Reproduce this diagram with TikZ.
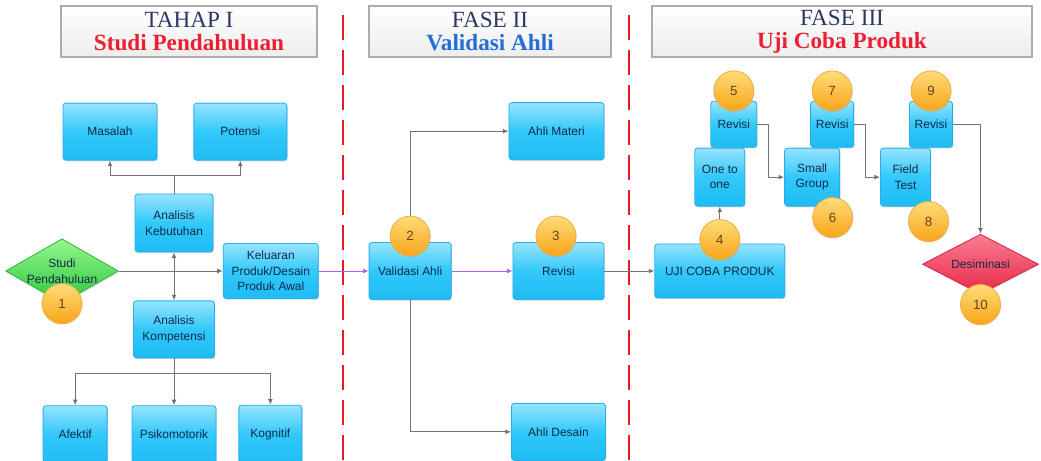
\documentclass[tikz,border=0pt]{standalone}
\usepackage{fontspec}
\setmainfont{Liberation Serif}
\setsansfont{Liberation Sans}
\usetikzlibrary{positioning,shapes.geometric,shadows,arrows.meta}

\definecolor{boxtop}{RGB}{150,228,255}
\definecolor{boxmid}{RGB}{50,200,250}
\definecolor{boxbot}{RGB}{30,188,244}
\definecolor{boxline}{RGB}{40,175,235}
\definecolor{boxtext}{RGB}{20,40,75}
\definecolor{hdtext}{RGB}{45,55,100}
\definecolor{hdred}{RGB}{235,30,50}
\definecolor{hdblue}{RGB}{35,110,210}
\definecolor{sekatred}{RGB}{235,25,35}
\definecolor{garis}{RGB}{115,115,115}
\definecolor{ungu}{RGB}{170,100,230}
\definecolor{badgetop}{RGB}{255,220,120}
\definecolor{badgebot}{RGB}{248,165,25}
\definecolor{badgeline}{RGB}{240,175,70}

\begin{document}
\begin{tikzpicture}[
    box/.style={rectangle, rounded corners=2pt, draw=boxline, line width=0.6pt,
        top color=boxtop, bottom color=boxbot, middle color=boxmid,
        text=boxtext, align=center, inner sep=1pt,
        font=\sffamily\fontsize{8.5}{11}\selectfont,
        drop shadow={shadow xshift=0.6pt, shadow yshift=-0.8pt, opacity=0.3}},
    diam/.style={diamond, aspect=1.75, inner sep=0pt, align=center, text=boxtext, line width=0.6pt,
        font=\sffamily\fontsize{8.5}{11}\selectfont,
        drop shadow={shadow xshift=0.6pt, shadow yshift=-0.8pt, opacity=0.3}},
    badge/.style={circle, minimum size=1cm, inner sep=0pt, draw=badgeline, line width=0.6pt,
        top color=badgetop, bottom color=badgebot, text={rgb,255:red,95;green,70;blue,25},
        font=\sffamily\fontsize{9.5}{11}\selectfont,
        drop shadow={shadow xshift=0.5pt, shadow yshift=-0.6pt, opacity=0.25}},
    header/.style={rectangle, draw=gray!65, line width=1pt, top color=white, bottom color=gray!14,
        minimum height=1.275cm, align=center, inner sep=0pt,
        font=\rmfamily\fontsize{16.5}{16.5}\selectfont,
        drop shadow={shadow xshift=0.8pt, shadow yshift=-0.8pt, opacity=0.3}},
    sekat/.style={draw=sekatred, line width=1.4pt, dash pattern=on 0.625cm off 0.25cm},
    conn/.style={draw=garis, line width=0.7pt, -{Latex[length=4pt,width=3.5pt]}},
    line/.style={draw=garis, line width=0.7pt},
    purple/.style={draw=ungu, line width=0.7pt, -{Latex[length=4pt,width=3.5pt]}}
]
    \useasboundingbox (0,0) rectangle (26.025,-11.525);

    \node[header, minimum width=6.4cm] (tahap1) at (4.725,-0.7875)
        {{\color{hdtext}TAHAP I}\\{\bfseries\color{hdred}Studi Pendahuluan}};
    \node[header, minimum width=6.05cm] (fase2) at (12.25,-0.7875)
        {{\color{hdtext}FASE II}\\{\bfseries\color{hdblue}Validasi Ahli}};
    \node[header, minimum width=9.5cm] (fase3) at (21.05,-0.7875)
        {{\color{hdtext}FASE III}\\{\bfseries\color{hdred}Uji Coba Produk}};

    \draw[sekat] (8.575,-0.375) -- (8.575,-11.525);
    \draw[sekat] (15.725,-0.375) -- (15.725,-11.525);

    \node[diam, minimum width=2.75cm, minimum height=1.6cm, draw={rgb,255:red,60;green,180;blue,70},
        top color={rgb,255:red,150;green,245;blue,140}, bottom color={rgb,255:red,40;green,200;blue,60}]
        (studi) at (1.55,-6.775) {Studi\\Pendahuluan};
    \node[box, minimum width=1.95cm, minimum height=1.45cm] (kebut) at (4.35,-5.575) {Analisis\\Kebutuhan};
    \node[box, minimum width=2.35cm, minimum height=1.425cm, above=0.825cm of kebut, xshift=-1.6cm] (masalah) {Masalah};
    \node[box, minimum width=2.325cm, minimum height=1.425cm, right=0.9cm of masalah] (potensi) {Potensi};
    \node[box, minimum width=2.025cm, minimum height=1.425cm, below=1.2cm of kebut] (kompet) {Analisis\\Kompetensi};
    \node[box, minimum width=2.375cm, minimum height=1.375cm, right=2.6cm of studi] (keluaran) {Keluaran\\Produk/Desain\\Produk Awal};
    \node[box, minimum width=2.1cm, minimum height=1.425cm, below=1.175cm of kompet] (psiko) {Psikomotorik};
    \node[box, minimum width=1.6cm, minimum height=1.425cm, left=0.6cm of psiko] (afektif) {Afektif};
    \node[box, minimum width=1.575cm, minimum height=1.45cm, right=0.55cm of psiko] (kognitif) {Kognitif};

    \node[box, minimum width=2.05cm, minimum height=1.425cm, right=1.25cm of keluaran] (validasi) {Validasi Ahli};
    \node[box, minimum width=2.275cm, minimum height=1.425cm, right=1.525cm of validasi] (revisi) {Revisi};
    \node[box, minimum width=2.375cm, minimum height=1.425cm, above=2.05cm of revisi, xshift=-0.05cm] (materi) {Ahli Materi};
    \node[box, minimum width=2.35cm, minimum height=1.425cm, below=2.575cm of revisi] (desain) {Ahli Desain};

    \node[box, minimum width=3.25cm, minimum height=1.35cm, right=1.25cm of revisi] (uji) {UJI COBA PRODUK};
    \node[box, minimum width=1.25cm, minimum height=1.45cm, above=0.925cm of uji] (one) {One to\\one};
    \node[box, minimum width=1.15cm, minimum height=1.15cm, above=0cm of one, xshift=0.35cm] (rev1) {Revisi};
    \node[box, minimum width=1.375cm, minimum height=1.45cm, right=0.975cm of one] (small) {Small\\Group};
    \node[box, minimum width=1.075cm, minimum height=1.15cm, above=0cm of small, xshift=0.5cm] (rev2) {Revisi};
    \node[box, minimum width=1.25cm, minimum height=1.45cm, right=1cm of small] (field) {Field\\Test};
    \node[box, minimum width=1.075cm, minimum height=1.15cm, above=0cm of field, xshift=0.6375cm] (rev3) {Revisi};
    \node[diam, minimum width=2.9cm, minimum height=1.5cm, below=2.15cm of rev3, xshift=1.2375cm,
        draw={rgb,255:red,215;green,40;blue,70},
        top color={rgb,255:red,250;green,125;blue,145}, bottom color={rgb,255:red,232;green,40;blue,72}]
        (desim) {Desiminasi};

    \draw[conn] (studi.east) -- (keluaran.west);
    \draw[line, {Latex[length=4pt,width=3.5pt]}-{Latex[length=4pt,width=3.5pt]}] (kebut.south) -- (kompet.north);
    \path (kebut.north) ++(0,0.45) coordinate (fork1);
    \draw[line] (kebut.north) -- (fork1);
    \draw[conn] (fork1) -| (masalah.south);
    \draw[conn] (fork1) -| (potensi.south);
    \path (kompet.south) ++(0,-0.375) coordinate (fork2);
    \draw[conn] (kompet.south) -- (psiko.north);
    \draw[conn] (fork2) -| (afektif.north);
    \draw[conn] (fork2) -| (kognitif.north);

    \draw[purple] (keluaran.east) -- (validasi.west);
    \draw[purple] (validasi.east) -- (revisi.west);
    \draw[conn] (validasi.north) |- (materi.west);
    \draw[conn] (validasi.south) |- (desain.west);
    \draw[conn] (revisi.east) -- (uji.west);

    \draw[conn] (uji.north) -- (one.south);
    \draw[conn] (rev1.east) -- ++(0.275,0) |- (small.west);
    \draw[conn] (rev2.east) -- ++(0.275,0) |- (field.west);
    \draw[conn] (rev3.east) -| (desim.north);

    \node[badge] (n1) at (studi.south) {1};
    \node[badge, yshift=0.15cm] (n2) at (validasi.north) {2};
    \node[badge, xshift=-0.0625cm, yshift=0.15cm] (n3) at (revisi.north) {3};
    \node[badge, yshift=0.1cm] (n4) at (uji.north) {4};
    \node[badge, yshift=0.25cm] (n5) at (rev1.north) {5};
    \node[badge, xshift=0.5125cm, yshift=-0.275cm] (n6) at (small.south) {6};
    \node[badge, yshift=0.25cm] (n7) at (rev2.north) {7};
    \node[badge, xshift=0.575cm, yshift=-0.375cm] (n8) at (field.south) {8};
    \node[badge, yshift=0.25cm] (n9) at (rev3.north) {9};
    \node[badge, yshift=-0.25cm] (n10) at (desim.south) {10};
\end{tikzpicture}
\end{document}
